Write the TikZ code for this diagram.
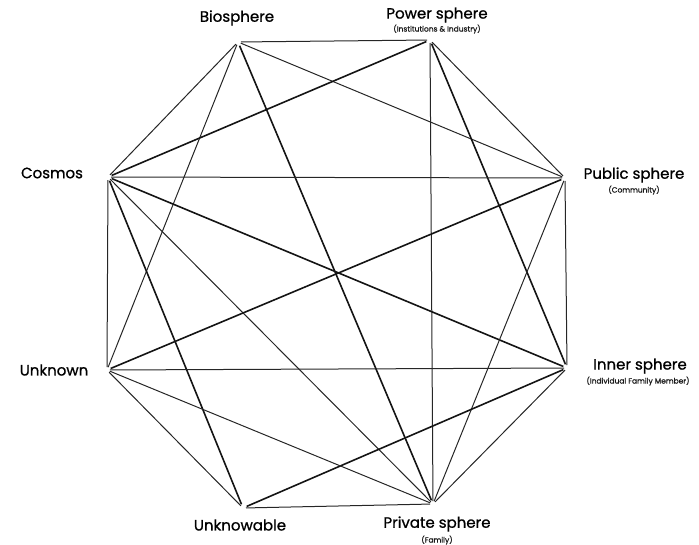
\documentclass[tikz,border=0pt]{standalone}
\usepackage{fontspec}
\setmainfont{Poppins}
\newfontfamily\lblfont{Poppins}[FakeBold=0.9]
\begin{document}
\begin{tikzpicture}[x=1pt,y=-1pt,
  vtx/.style={inner sep=0pt,minimum size=0pt},
  lbl/.style={font=\lblfont\fontsize{15}{17}\selectfont, inner sep=0pt, text=black},
  sub/.style={font=\lblfont\fontsize{7.5}{8}\selectfont, inner sep=0pt, text=black!90},
  thin/.style={draw=black!85, line width=1pt, shorten >=3pt, shorten <=3pt},
  thick/.style={draw=black!92, line width=1.6pt, shorten >=4pt, shorten <=4pt}]
\useasboundingbox (0,0) rectangle (699,544);
% vertices
\coordinate (B) at (238,42);
\coordinate (P) at (430,40);
\coordinate (Pu) at (565,178);
\coordinate (I) at (567,368);
\coordinate (Pr) at (433,504);
\coordinate (K) at (243,508);
\coordinate (U) at (107,370);
\coordinate (C) at (108,177);
% labels
\node[lbl] (lB) at (237,18) {Biosphere};
\node[lbl] (lP) at (437,15) {Power sphere};
\node[sub] (sP) at (437,29) {(Institutions \& Industry)};
\node[lbl] (lC) at (52,173) {Cosmos};
\node[lbl] (lPu) at (634,175) {Public sphere};
\node[sub] (sPu) at (634,190) {(Community)};
\node[lbl] (lU) at (54,370) {Unknown};
\node[lbl] (lI) at (640,366) {Inner sphere};
\node[sub] (sI) at (638,381) {(Individual Family Member)};
\node[lbl] (lK) at (240,525) {Unknowable};
\node[lbl] (lPr) at (437,524) {Private sphere};
\node[sub] (sPr) at (437,540) {(Family)};
% edges
\draw[thin] (B) -- (P);
\draw[thin] (B) -- (C);
\draw[thin] (B) -- (U);
\draw[thick] (B) -- (Pr);
\draw[thin] (B) -- (Pu);
\draw[thick] (P) -- (C);
\draw[thin] (P) -- (Pr);
\draw[thick] (P) -- (I);
\draw[thin] (P) -- (Pu);
\draw[thin] (C) -- (Pu);
\draw[thick] (C) -- (I);
\draw[thin] (C) -- (U);
\draw[thick] (C) -- (K);
\draw[thin] (C) -- (Pr);
\draw[thick] (Pu) -- (U);
\draw[thin] (Pu) -- (I);
\draw[thin] (Pu) -- (Pr);
\draw[thin] (I) -- (U);
\draw[thick] (I) -- (K);
\draw[thin] (I) -- (Pr);
\draw[thin] (U) -- (Pr);
\draw[thin] (U) -- (K);
\draw[thin] (K) -- (Pr);
\end{tikzpicture}
\end{document}
